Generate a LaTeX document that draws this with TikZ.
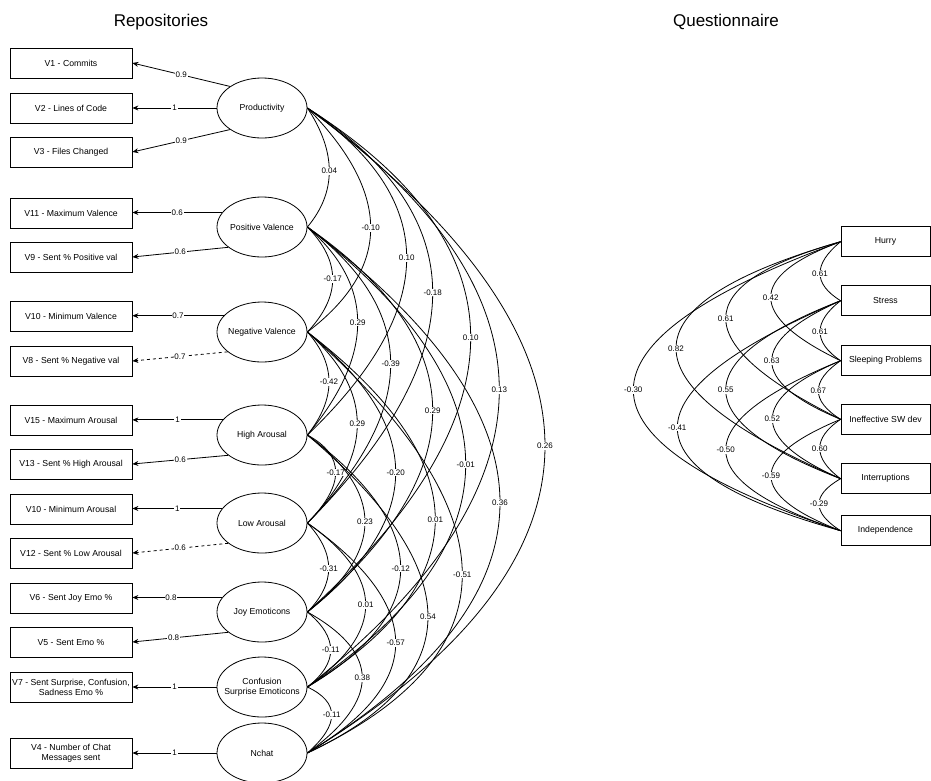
\documentclass[tikz,border=0pt]{standalone}
\usepackage{fontspec}
\setmainfont{Liberation Sans}
\usetikzlibrary{calc,arrows.meta,shapes.geometric}

% covariance arc: quadratic curve whose midpoint is the label point #3
\newcommand\covpath[4]{%
  \path ($2*(#3) - 0.5*(#1) - 0.5*(#2)$) coordinate (ctl);
  \draw[cov] (#1) .. controls ($(#1)!2/3!(ctl)$) and ($(#2)!2/3!(ctl)$) .. (#2)
    node[lbl,pos=0.5] {#4};
}

\begin{document}
\begin{tikzpicture}[x=1pt,y=-1pt,
  nodefont/.style={font=\fontsize{8.7}{10}\selectfont},
  obs/.style={draw, line width=0.8pt, minimum width=122pt, minimum height=30pt,
    inner sep=1pt, align=center, nodefont},
  qbox/.style={obs, minimum width=89pt},
  lat/.style={draw, ellipse, line width=0.8pt, minimum width=90pt,
    minimum height=60pt, inner sep=0pt},
  lattext/.style={nodefont, align=center, inner sep=0pt},
  load/.style={line width=0.8pt, -{Stealth[length=6pt,width=5pt]}},
  loadd/.style={load, dash pattern=on 3pt off 3pt},
  cov/.style={line width=0.8pt},
  lbl/.style={fill=white, inner sep=0.8pt, font=\fontsize{8}{9}\selectfont},
  title/.style={font=\fontsize{17}{20}\selectfont}
]
\useasboundingbox (0,0) rectangle (931,780);

% titles
\node[title] (trepo) at (161,22) {Repositories};
\node[title] (tques) at (726,22) {Questionnaire};

% observed variables (repositories)
\node[obs] (v1)   at (71,63)  {V1 - Commits};
\node[obs] (v2)   at (71,108) {V2 - Lines of Code};
\node[obs] (v3)   at (71,152) {V3 - Files Changed};
\node[obs] (v11)  at (71,213) {V11 - Maximum Valence};
\node[obs] (v9)   at (71,257) {V9 - Sent \% Positive val};
\node[obs] (v10a) at (71,316) {V10 - Minimum Valence};
\node[obs] (v8)   at (71,361) {V8 - Sent \% Negative val};
\node[obs] (v15)  at (71,420) {V15 - Maximum Arousal};
\node[obs] (v13)  at (71,464) {V13 - Sent \% High Arousal};
\node[obs] (v10b) at (71,509) {V10 - Minimum Arousal};
\node[obs] (v12)  at (71,553) {V12 - Sent \% Low Arousal};
\node[obs] (v6)   at (71,598) {V6 - Sent Joy Emo \%};
\node[obs] (v5)   at (71,642) {V5 - Sent Emo \%};
\node[obs] (v7)   at (71,687) {V7 - Sent Surprise, Confusion,\\Sadness Emo \%};
\node[obs] (v4)   at (71,753) {V4 - Number of Chat\\Messages sent};

% latent factors
\node[lat, label={[lattext]center:Productivity}]      (prod)  at (262,108) {};
\node[lat, label={[lattext]center:Positive Valence}]  (pv)    at (262,227) {};
\node[lat, label={[lattext]center:Negative Valence}]  (nv)    at (262,332) {};
\node[lat, label={[lattext]center:High Arousal}]      (ha)    at (262,435) {};
\node[lat, label={[lattext]center:Low Arousal}]       (la)    at (262,523) {};
\node[lat, label={[lattext]center:Joy Emoticons}]     (joy)   at (262,612) {};
\node[lat, label={[lattext]center:Confusion\\Surprise Emoticons}] (conf) at (262,687) {};
\node[lat, label={[lattext]center:Nchat}]             (nchat) at (262,753) {};

% loadings
\draw[load] (prod.146) -- (v1.east) node[lbl,pos=0.5] {0.9};
\draw[load] (prod.west) -- (v2.east) node[lbl,pos=0.5] {1};
\draw[load] (prod.214) -- (v3.east) node[lbl,pos=0.5] {0.9};
\draw[load] (pv.160) -- (pv.160 -| v11.east) node[lbl,pos=0.5] {0.6};
\draw[load] (pv.211) -- (v9.east) node[lbl,pos=0.5] {0.6};
\draw[load] (nv.157) -- (nv.157 -| v10a.east) node[lbl,pos=0.5] {0.7};
\draw[loadd] (nv.210) -- (v8.east) node[lbl,pos=0.5] {0.7};
\draw[load] (ha.159) -- (ha.159 -| v15.east) node[lbl,pos=0.5] {1};
\draw[load] (ha.211) -- (v13.east) node[lbl,pos=0.5] {0.6};
\draw[load] (la.160) -- (la.160 -| v10b.east) node[lbl,pos=0.5] {1};
\draw[loadd] (la.211) -- (v12.east) node[lbl,pos=0.5] {0.6};
\draw[load] (joy.160) -- (joy.160 -| v6.east) node[lbl,pos=0.57] {0.8};
\draw[load] (joy.211) -- (v5.east) node[lbl,pos=0.57] {0.8};
\draw[load] (conf.west) -- (v7.east) node[lbl,pos=0.5] {1};
\draw[load] (nchat.west) -- (v4.east) node[lbl,pos=0.5] {1};

% covariances between latent factors
\covpath{prod.east}{pv.east}{329.3,171}{0.04}
\covpath{prod.east}{nv.east}{370.7,228}{-0.10}
\covpath{prod.east}{ha.east}{406.7,258}{0.10}
\covpath{prod.east}{la.east}{432.7,292.7}{-0.18}
\covpath{prod.east}{joy.east}{470.7,337.7}{0.10}
\covpath{prod.east}{conf.east}{499.3,390}{0.13}
\covpath{prod.east}{nchat.east}{545,446}{0.26}
\covpath{pv.east}{nv.east}{332.7,279}{-0.17}
\covpath{pv.east}{ha.east}{357.7,322.7}{0.29}
\covpath{pv.east}{la.east}{390.7,364}{-0.39}
\covpath{pv.east}{joy.east}{432.7,410.7}{0.29}
\covpath{pv.east}{conf.east}{465.7,464.3}{-0.01}
\covpath{pv.east}{nchat.east}{500,502.7}{0.36}
\covpath{nv.east}{ha.east}{329,382}{-0.42}
\covpath{nv.east}{la.east}{357.3,424}{0.29}
\covpath{nv.east}{joy.east}{395.7,472.3}{-0.20}
\covpath{nv.east}{conf.east}{435.3,519.3}{0.01}
\covpath{nv.east}{nchat.east}{462.3,574.3}{-0.51}
\covpath{ha.east}{la.east}{335.7,472.3}{-0.17}
\covpath{ha.east}{joy.east}{365,522}{0.23}
\covpath{ha.east}{conf.east}{400.7,568.3}{-0.12}
\covpath{ha.east}{nchat.east}{428,616.7}{0.54}
\covpath{la.east}{joy.east}{328.7,568.3}{-0.31}
\covpath{la.east}{conf.east}{365.7,605}{0.01}
\covpath{la.east}{nchat.east}{395.7,643}{-0.57}
\covpath{joy.east}{conf.east}{330.7,650}{-0.11}
\covpath{joy.east}{nchat.east}{362.3,678}{0.38}
\covpath{conf.east}{nchat.east}{331.7,715}{-0.11}

% questionnaire items
\node[qbox] (hurry)  at (885.5,241.7) {Hurry};
\node[qbox] (stress) at (885.5,300.7) {Stress};
\node[qbox] (sleep)  at (885.5,360.7) {Sleeping Problems};
\node[qbox] (ineff)  at (885.5,419.3) {Ineffective SW dev};
\node[qbox] (inter)  at (885.5,478.7) {Interruptions};
\node[qbox] (indep)  at (885.5,530.7) {Independence};

% correlations between questionnaire items
\covpath{hurry.west}{stress.west}{820,273.3}{0.61}
\covpath{hurry.west}{sleep.west}{770.7,297.3}{0.42}
\covpath{hurry.west}{ineff.west}{725.7,318.3}{0.61}
\covpath{hurry.west}{inter.west}{676,348.3}{0.82}
\covpath{hurry.west}{indep.west}{633.3,390}{-0.30}
\covpath{stress.west}{sleep.west}{820,331.7}{0.61}
\covpath{stress.west}{ineff.west}{771.7,361}{0.63}
\covpath{stress.west}{inter.west}{725.7,390}{0.55}
\covpath{stress.west}{indep.west}{677.3,427.7}{-0.41}
\covpath{sleep.west}{ineff.west}{818.3,390.7}{0.67}
\covpath{sleep.west}{inter.west}{772.3,419}{0.52}
\covpath{sleep.west}{indep.west}{725.7,450}{-0.50}
\covpath{ineff.west}{inter.west}{819.7,448.3}{0.60}
\covpath{ineff.west}{indep.west}{771,476}{-0.59}
\covpath{inter.west}{indep.west}{819,504}{-0.29}
\end{tikzpicture}
\end{document}
